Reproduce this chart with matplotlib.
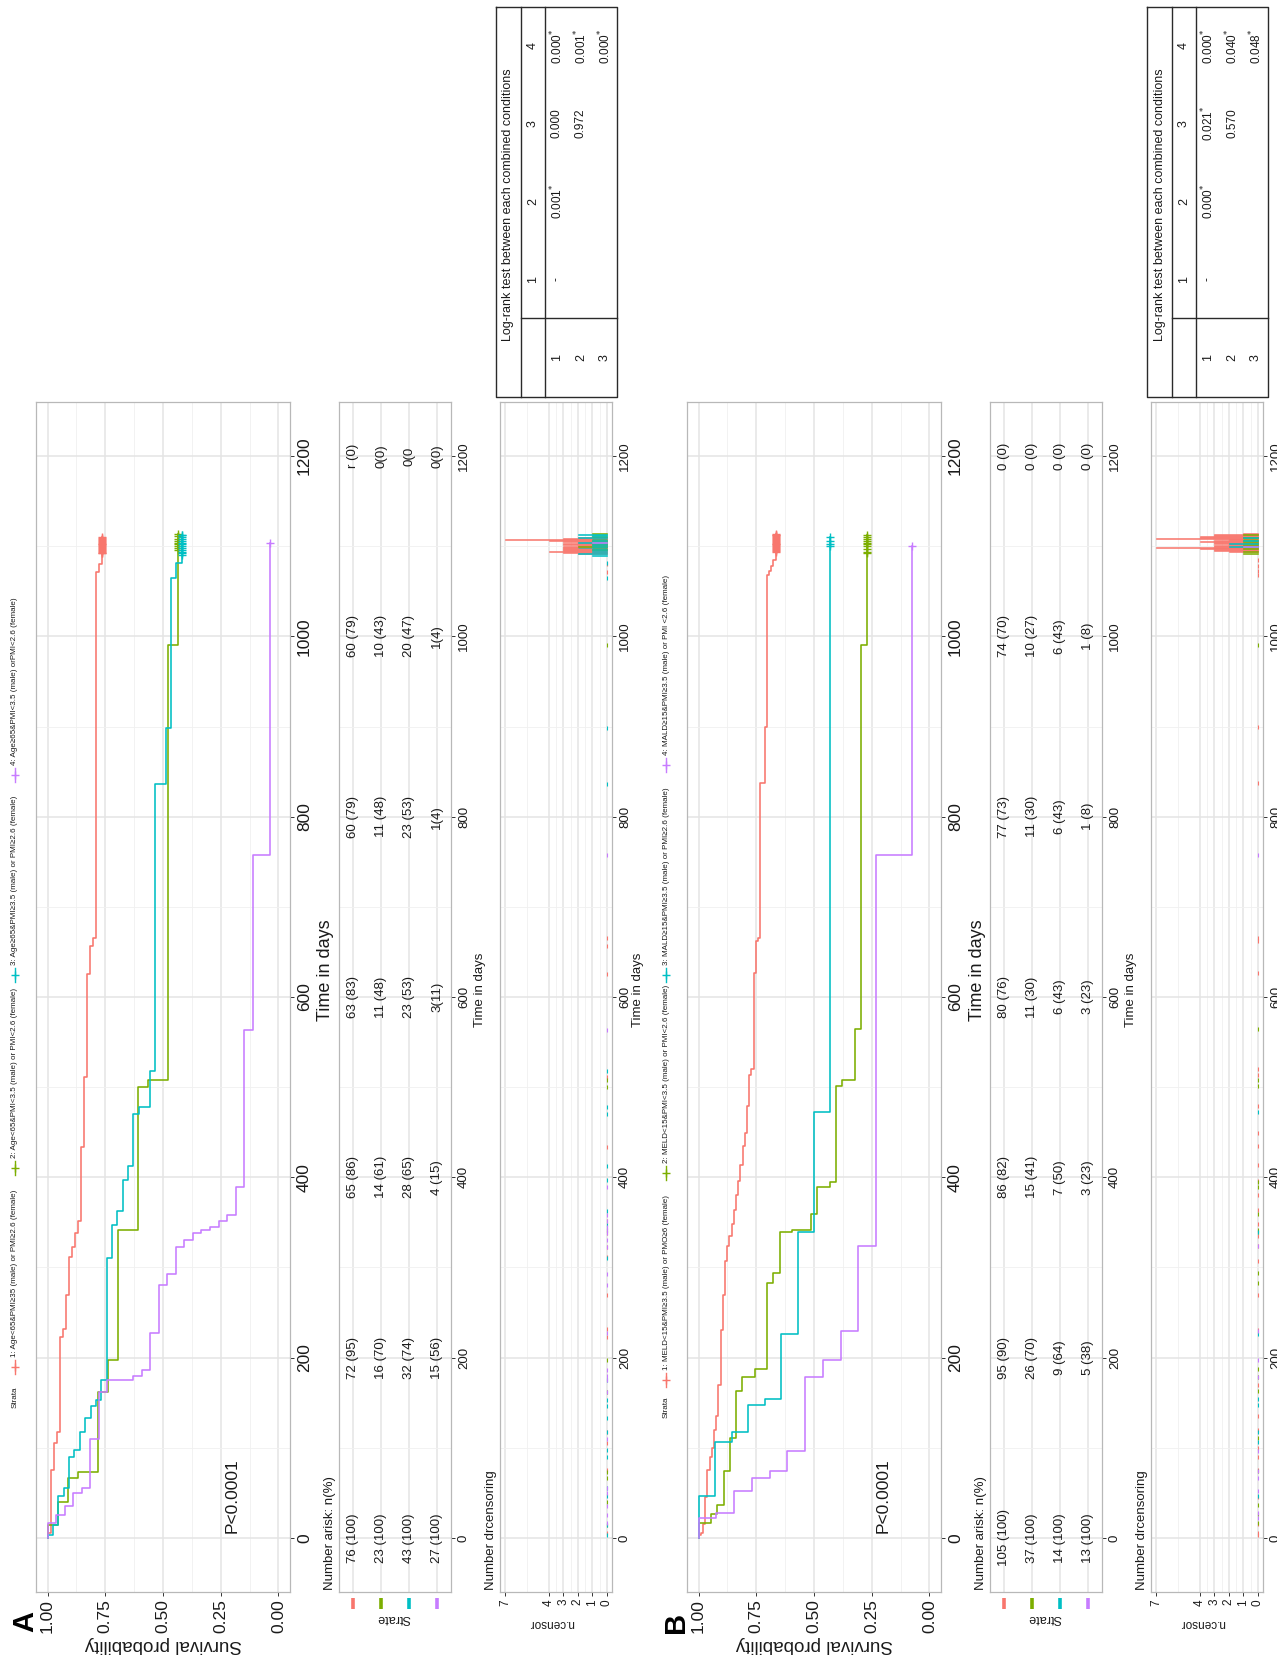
import numpy as np
import matplotlib
matplotlib.use("Agg")
import matplotlib.pyplot as plt
import matplotlib.transforms as mtransforms

plt.rcParams["font.family"] = ["Liberation Sans", "DejaVu Sans"]
plt.rcParams["mathtext.fontset"] = "dejavusans"

# ---------------------------------------------------------------- data
colors = ["#F8766D", "#7CAE00", "#00BFC4", "#C77CFF"]
time_breaks = [0, 200, 400, 600, 800, 1000, 1200]
time_minor = [100, 300, 500, 700, 900, 1100]
surv_breaks = [0.0, 0.25, 0.5, 0.75, 1.0]
surv_labels = ["0.00", "0.25", "0.50", "0.75", "1.00"]
censor_breaks = [0, 1, 2, 3, 4, 7]

# ---- Panel A
a_strata = ["1: Age<65&PMI≥35 (male) or PMI≥2.6 (female)",
            "2: Age<65&PMI<3.5 (male) or PMI<2.6 (female)",
            "3: Age≥65&PMI≥3.5 (male) or PMI≥2.6 (female)",
            "4: Age≥65&PMI<3.5 (male) orPMI<2.6 (female)"]
a_n = [76, 23, 43, 27]
a_events_1 = [5, 75, 105, 117, 223, 232, 269, 312, 323, 338, 351, 434, 511,
              626, 657, 665, 1071, 1080]
a_events_2 = [14, 40, 66, 73, 73, 162, 197, 342, 342, 500, 508, 508, 990]
a_events_3 = [3, 14, 46, 55, 90, 97, 118, 133, 146, 153, 175, 310, 347, 363,
              397, 412, 470, 478, 478, 518, 836, 836, 898, 1065, 1081]
a_events_4 = [16, 25, 35, 50, 55, 110, 162, 175, 175, 175, 180, 186, 227, 280,
              293, 323, 330, 338, 342, 345, 352, 358, 389, 563, 757, 757]
a_cens_t_1 = [1092, 1093, 1094, 1095, 1096, 1097, 1098, 1099, 1100, 1101,
              1102, 1103, 1104, 1105, 1106, 1107, 1108, 1109, 1110]
a_cens_n_1 = [2, 3, 4, 3, 3, 3, 2, 3, 3, 2, 3, 3, 2, 3, 4, 7, 3, 3, 2]
a_cens_t_2 = [1096, 1098, 1100, 1102, 1104, 1106, 1108, 1111, 1114]
a_cens_n_2 = [1, 1, 2, 1, 1, 1, 1, 1, 1]
a_cens_t_3 = [1090, 1092, 1094, 1096, 1098, 1100, 1102, 1104, 1106, 1108,
              1110, 1112, 1113]
a_cens_n_3 = [1, 2, 1, 1, 2, 1, 1, 2, 1, 1, 2, 1, 2]
a_cens_t_4 = [1104]
a_cens_n_4 = [1]
a_risk_1 = ["76 (100)", "72 (95)", "65 (86)", "63 (83)", "60 (79)", "60 (79)", "r (0)"]
a_risk_2 = ["23 (100)", "16 (70)", "14 (61)", "11 (48)", "11 (48)", "10 (43)", "0(0)"]
a_risk_3 = ["43 (100)", "32 (74)", "28 (65)", "23 (53)", "23 (53)", "20 (47)", "0(0"]
a_risk_4 = ["27 (100)", "15 (56)", "4 (15)", "3(11)", "1(4)", "1(4)", "0(0)"]
a_logrank = [["-", "0.001$^{*}$", "0.000", "0.000$^{*}$"],
             ["", "", "0.972", "0.001$^{*}$"],
             ["", "", "", "0.000$^{*}$"]]

# ---- Panel B
b_strata = ["1: MELD<15&PMI≥3.5 (male) or PMO≥6 (female)",
            "2: MELD<15&PMI<3.5 (male) or PMI<2.6 (female)",
            "3: MALD≥15&PMI≥3.5 (male) or PMI≥2.6 (female)",
            "4: MALD≥15&PMI≥3.5 (male) or PMI <2.6 (female)"]
b_n = [105, 37, 14, 13]
b_events_1 = [3, 6, 15, 45, 75, 90, 100, 120, 135, 170, 231, 270, 307, 324,
              335, 348, 364, 380, 396, 414, 435, 449, 479, 514, 520, 627, 662,
              665, 837, 837, 900, 1068, 1072, 1078, 1085]
b_events_2 = [16, 16, 26, 37, 74, 111, 163, 178, 178, 187, 187, 283, 294, 339,
              339, 342, 342, 342, 359, 389, 389, 395, 501, 508, 508, 564, 991]
b_events_3 = [47, 106, 117, 147, 154, 226, 339, 472]
b_events_4 = [22, 28, 52, 67, 74, 96, 178, 197, 229, 324, 758, 758]
b_cens_t_1 = [1094, 1095, 1096, 1097, 1098, 1099, 1100, 1101, 1102, 1103,
              1104, 1105, 1106, 1107, 1108, 1109, 1110, 1111, 1112, 1113, 1114]
b_cens_n_1 = [2, 3, 3, 4, 3, 7, 3, 3, 2, 3, 3, 4, 3, 2, 3, 7, 4, 4, 3, 3, 1]
b_cens_t_2 = [1092, 1094, 1097, 1100, 1102, 1104, 1106, 1108, 1110, 1113]
b_cens_n_2 = [1, 1, 1, 1, 1, 1, 1, 1, 1, 1]
b_cens_t_3 = [1100, 1103, 1106, 1110]
b_cens_n_3 = [2, 2, 1, 1]
b_cens_t_4 = [1100]
b_cens_n_4 = [1]
b_risk_1 = ["105 (100)", "95 (90)", "86 (82)", "80 (76)", "77 (73)", "74 (70)", "0 (0)"]
b_risk_2 = ["37 (100)", "26 (70)", "15 (41)", "11 (30)", "11 (30)", "10 (27)", "0 (0)"]
b_risk_3 = ["14 (100)", "9 (64)", "7 (50)", "6 (43)", "6 (43)", "6 (43)", "0 (0)"]
b_risk_4 = ["13 (100)", "5 (38)", "3 (23)", "3 (23)", "1 (8)", "1 (8)", "0 (0)"]
b_logrank = [["-", "0.000$^{*}$", "0.021$^{*}$", "0.000$^{*}$"],
             ["", "", "0.570", "0.040$^{*}$"],
             ["", "", "", "0.048$^{*}$"]]

table_title = "Log-rank test between each combined conditions"
table_cols = ["1", "2", "3", "4"]
table_rows = ["1", "2", "3"]
pvalue_text = "P<0.0001"

# ---------------------------------------------------------------- figure
W, H, DPI = 1277, 1663, 100
fig = plt.figure(figsize=(W / DPI, H / DPI), dpi=DPI)
fig.patch.set_facecolor("white")

overlay = fig.add_axes([0, 0, 1, 1], zorder=-5)
overlay.set_xlim(0, W)
overlay.set_ylim(H, 0)
overlay.axis("off")

TXT = "#1A1A1A"
TICK = "#333333"


def ftext(x, y, s, rot=90, size=10, ha="center", va="center", **kw):
    overlay.text(x, y, s, rotation=rot, rotation_mode="anchor", ha=ha, va=va,
                 fontsize=size, color=kw.pop("color", TXT), **kw)


def add_ax(x0, y0, x1, y1):
    return fig.add_axes([x0 / W, 1 - y1 / H, (x1 - x0) / W, (y1 - y0) / H])


def style(ax):
    ax.set_facecolor("white")
    for sp in ax.spines.values():
        sp.set_color("#B8B8B8")
        sp.set_linewidth(0.9)
    ax.grid(which="major", color="#E4E4E4", lw=1.1)
    ax.grid(which="minor", color="#F0F0F0", lw=0.6)
    ax.set_axisbelow(True)
    ax.tick_params(which="minor", length=0)
    ax.tick_params(which="major", length=3, color=TICK, width=0.7,
                   labelcolor=TXT)


def km_curve(n, events, cens_t, cens_n):
    times = sorted(set(events) | set(cens_t))
    s, at_risk = 1.0, n
    xs, ys = [1.0], [0.0]
    cmap = dict(zip(cens_t, cens_n))
    for t in times:
        d = events.count(t)
        c = cmap.get(t, 0)
        if d:
            s *= 1 - d / at_risk
            xs.append(s)
            ys.append(t)
        at_risk -= d + c
    xs.append(s)
    ys.append(max(times))
    return xs, ys, s


def draw_panel(off, letter, strata, ns, events, cens_t, cens_n, risk, logrank,
               strata_y, key_ys):
    # ---------------- legend (top strip)
    ftext(15 + off, strata_y, "Strata", size=5.8)
    for i in range(4):
        ky = key_ys[i]
        overlay.plot([15 + off, 15 + off], [ky - 7, ky + 7], color=colors[i], lw=1.0)
        overlay.plot([15 + off], [ky], marker="+", color=colors[i], ms=6, mew=1.0)
        ftext(15 + off, ky - 10, strata[i], size=5.8, ha="left")

    ftext(25 + off, 1622, letter, size=21, fontweight="bold", color="black")

    # ---------------- survival curves
    ax = add_ax(36 + off, 402, 290 + off, 1592)
    style(ax)
    ax.set_xlim(1.05, -0.05)
    ax.set_ylim(-60, 1260)
    for i in range(4):
        xs, ys, s_end = km_curve(ns[i], events[i], cens_t[i], cens_n[i])
        ax.plot(xs, ys, drawstyle="steps-pre", color=colors[i], lw=1.15)
        ax.plot([s_end] * len(cens_t[i]), cens_t[i], ls="none", marker="+",
                color=colors[i], ms=6, mew=1.0)
    ax.set_xticks(surv_breaks)
    ax.set_xticklabels(surv_labels, rotation=90, fontsize=12.5, ha="center", va="top")
    ax.set_xticks([0.125, 0.375, 0.625, 0.875], minor=True)
    ax.yaxis.tick_right()
    ax.set_yticks(time_breaks)
    ax.set_yticklabels([str(t) for t in time_breaks], rotation=90,
                       fontsize=12.5, ha="left", va="center")
    ax.set_yticks(time_minor, minor=True)
    ax.tick_params(axis="both", which="major", pad=2)
    ax.text(0.2, 5, pvalue_text, rotation=90, rotation_mode="anchor",
            ha="left", va="center", fontsize=12.5, color=TXT)
    ftext(326 + off, 970, "Time in days", size=13)
    ftext(163 + off, 1645, "Survival probability", rot=180, size=13.5)

    # ---------------- risk table
    ar = add_ax(339 + off, 402, 451 + off, 1592)
    style(ar)
    ar.set_xlim(0.5, 4.5)
    ar.set_ylim(-60, 1260)
    ar.set_xticks([1, 2, 3, 4])
    ar.set_xticklabels([])
    ar.tick_params(axis="x", length=0)
    ar.yaxis.tick_right()
    ar.set_yticks(time_breaks)
    ar.set_yticklabels([str(t) for t in time_breaks], rotation=90,
                       fontsize=9.5, ha="left", va="center")
    ar.set_yticks(time_minor, minor=True)
    ar.tick_params(axis="y", which="major", pad=2)
    trans = mtransforms.blended_transform_factory(ar.transData, ar.transAxes)
    for i in range(4):
        for t, s in zip(time_breaks, risk[i]):
            ar.text(i + 1, t, s, rotation=90, ha="center", va="center",
                    fontsize=9.5, color=TXT)
        ar.plot([i + 1, i + 1], [-0.005, -0.014], transform=trans,
                clip_on=False, color=colors[i], lw=2.6, solid_capstyle="butt")
    ftext(330 + off, 1590, "Number arisk: n(%)", size=9.5, ha="left")
    ftext(394 + off, 1618, "Strate", rot=180, size=9)
    ftext(480 + off, 990, "Time in days", size=9.5)

    # ---------------- censoring plot
    ac = add_ax(500 + off, 402, 612 + off, 1592)
    style(ac)
    ac.set_xlim(7.35, -0.35)
    ac.set_ylim(-60, 1260)
    for i in range(4):
        ac.barh(cens_t[i], cens_n[i], height=1.0, left=0, color=colors[i],
                edgecolor=colors[i], lw=0.4)
        zero_t = sorted(set(events[i]))
        ac.plot([0] * len(zero_t), zero_t, ls="none", marker="|",
                color=colors[i], ms=2.5, mew=0.8)
    ac.set_xticks(censor_breaks)
    ac.set_xticklabels([str(c) for c in censor_breaks], rotation=90,
                       fontsize=8.5, ha="center", va="top")
    ac.set_xticks([0.5, 1.5, 2.5, 3.5, 5.5], minor=True)
    ac.yaxis.tick_right()
    ac.set_yticks(time_breaks)
    ac.set_yticklabels([str(t) for t in time_breaks], rotation=90,
                       fontsize=9.5, ha="left", va="center")
    ac.set_yticks(time_minor, minor=True)
    ac.tick_params(axis="both", which="major", pad=2)
    ftext(491 + off, 1590, "Number drcensoring", size=9.5, ha="left")
    ftext(552 + off, 1623, "n.censor", rot=180, size=8.5)
    # the right-most panel's axis title falls past the page edge in the reference
    if 638 + off + 8 < W:
        ftext(638 + off, 990, "Time in days", size=9.5)

    # ---------------- log-rank table
    x0, x1, y0, y1 = 496 + off, 617 + off, 7, 397
    xa, xb, ysep = 521 + off, 545 + off, 318
    lk = dict(color="#2A2A2A", lw=1.0, solid_capstyle="projecting")
    overlay.plot([x0, x1, x1, x0, x0], [y0, y0, y1, y1, y0], **lk)
    overlay.plot([xa, xa], [y0, y1], **lk)
    overlay.plot([xb, xb], [y0, y1], **lk)
    overlay.plot([xa, x1], [ysep, ysep], **lk)
    ftext((x0 + xa) / 2, (y0 + y1) / 2 + 3, table_title, size=9)
    col_y = [y0 + (ysep - y0) * (3.5 - j) / 4 for j in range(4)]
    row_x = [xb + (x1 - xb) * (r + 0.5) / 3 for r in range(3)]
    for j, c in enumerate(table_cols):
        ftext((xa + xb) / 2, col_y[j], c, size=9)
    for r, lab in enumerate(table_rows):
        ftext(row_x[r], (ysep + y1) / 2, lab, size=9)
        for j in range(4):
            if logrank[r][j]:
                ftext(row_x[r], col_y[j], logrank[r][j], size=8.5)


draw_panel(0, "A", a_strata, a_n,
           [a_events_1, a_events_2, a_events_3, a_events_4],
           [a_cens_t_1, a_cens_t_2, a_cens_t_3, a_cens_t_4],
           [a_cens_n_1, a_cens_n_2, a_cens_n_3, a_cens_n_4],
           [a_risk_1, a_risk_2, a_risk_3, a_risk_4], a_logrank,
           1397, [1367, 1168, 975, 775])

draw_panel(651, "B", b_strata, b_n,
           [b_events_1, b_events_2, b_events_3, b_events_4],
           [b_cens_t_1, b_cens_t_2, b_cens_t_3, b_cens_t_4],
           [b_cens_n_1, b_cens_n_2, b_cens_n_3, b_cens_n_4],
           [b_risk_1, b_risk_2, b_risk_3, b_risk_4], b_logrank,
           1407, [1380, 1173, 975, 765])

fig.savefig("out.png", dpi=DPI, facecolor="white")
